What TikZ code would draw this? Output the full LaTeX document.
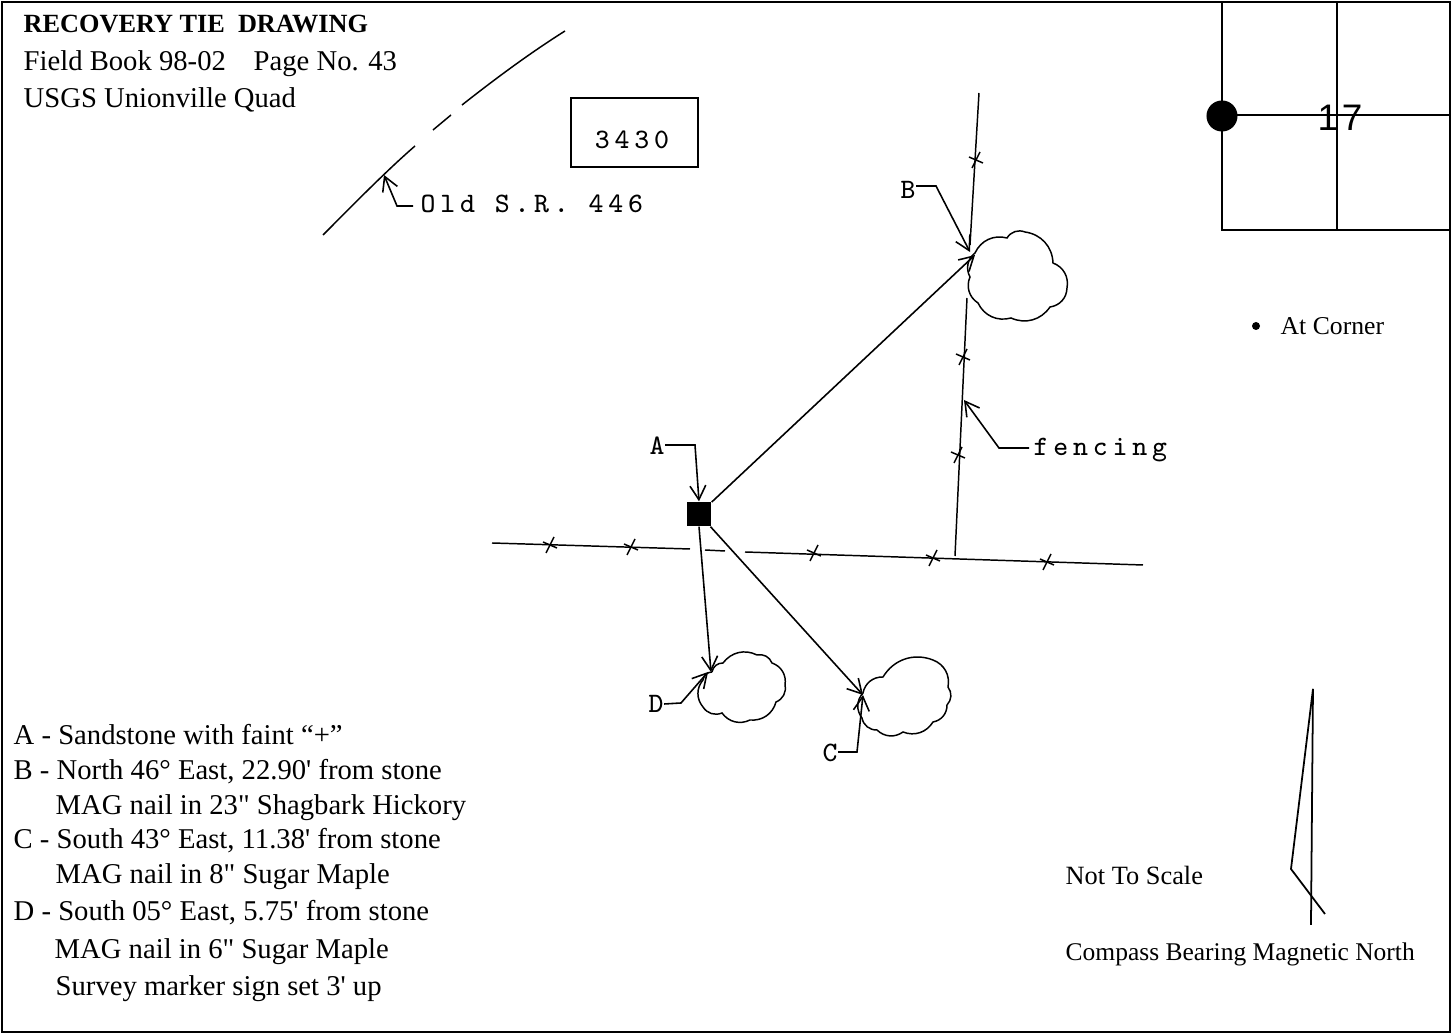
\documentclass[tikz,border=0pt]{standalone}
\usepackage{fontspec}
\setmainfont{Liberation Serif}
\setmonofont[LetterSpace=17]{Latin Modern Mono}
\newfontfamily\fieldfont{Liberation Serif}
\newfontfamily\sectionfont{Liberation Sans}
\usetikzlibrary{arrows.meta}
\begin{document}
\begin{tikzpicture}[x=0.01cm,y=-0.01cm,
        arrow/.style = {line width=0.45pt,-{Straight Barb[length=4pt,width=4.5pt]}},
        fence/.style = {line width=0.42pt},
        barb/.style = {line width=0.42pt},
        grid/.style = {line width=0.7pt},
        note/.style = {anchor=base west,inner sep=0pt,font=\fieldfont\fontsize{8.15pt}{9pt}\selectfont},
        sidenote/.style = {note,font=\fieldfont\fontsize{7.3pt}{9pt}\selectfont},
        sketch/.style = {anchor=base west,inner sep=0pt,font=\ttfamily\fontsize{8pt}{9pt}\selectfont},
        tree/.style = {line width=0.42pt,bend left=40}]
    \useasboundingbox (0,0) rectangle (1453,1034);
    \draw[line width=0.55pt] (2,2) rectangle (1450,1032);

    \node[note,font=\fieldfont\bfseries\fontsize{7.47pt}{9pt}\selectfont] (title) at (23,33) {RECOVERY TIE\ \ DRAWING};
    \node[note] (book) at (23,71) {Field Book 98-02\hspace{0.97em}Page No. 43};
    \node[note] (quad) at (23,108) {USGS Unionville Quad};

    % section grid
    \draw[grid] (1222,2) -- (1222,230) -- (1450,230);
    \draw[grid] (1337,2) -- (1337,230);
    \draw[grid] (1222,115) -- (1450,115);
    \node[circle,fill=black,inner sep=0pt,minimum size=0.31cm] (corner) at (1222,116) {};
    \node[inner sep=0pt,font=\sectionfont\fontsize{10.5pt}{12pt}\selectfont] (section) at (1340,118) {1\hspace{0.1em}7};
    \node[circle,fill=black,inner sep=0pt,minimum size=0.08cm] (dot) at (1256,326) {};
    \node[sidenote] (atcorner) at (1280,335) {At Corner};

    % road
    \draw[fence] (323,235) .. controls (350,208) and (385,172) .. (415,146);
    \draw[fence] (433,130) -- (451,115);
    \draw[fence] (462,105) .. controls (495,79) and (530,53) .. (565,31);
    \coordinate (roadtip) at (384,175);
    \node[sketch] (road) at (420,213) {Old S.R. 446};
    \draw[arrow] (road.west |- 0,206) ++(-7,0) -- (397,206) -- (roadtip);

    \node[draw,line width=0.5pt,minimum width=1.27cm,minimum height=0.69cm] (box) at (634.5,132.5) {};
    \node[sketch,anchor=base] (number) at (632,149) {3430};

    % fences
    \draw[fence] (492,543) -- (690,549);
    \draw[fence] (705,550) -- (725,551);
    \draw[fence] (745,552) -- (1143,565);
    \draw[fence] (979,93) -- (970,245);
    \draw[fence] (967,298) -- (955,556);
    \foreach \x/\y in {550/545,631/547,814/553,933/558,1047/562,976/160,963/357,958/455} {
        \draw[barb] (\x-7,\y-3) -- (\x+7,\y+3);
        \draw[barb] (\x+4,\y-8) -- (\x-4,\y+8);
    }

    % trees
    \draw[tree] (975,253) to (1007,238) to (1025,232) to (1053,263) to (1067,288) to (1050,307)
        to (1011,318) to (978,303) to (970,277) to (975,253);
    \draw[tree] (712,672) to (723,663) to (757,655) to (772,663) to (785,685) to (776,702) to (750,720)
        to (722,713) to (703,707) to (703,680) to (712,672);
    \draw[tree] (863,693) to (883,677) to (933,660) to (948,687) to (947,705) to (933,722) to (903,732)
        to (877,730) to (862,718) to (863,693);

    \node[rectangle,fill=black,inner sep=0pt,minimum size=0.24cm] (stone) at (699,514) {};
    \coordinate (tieb) at (975,255);
    \coordinate (tiec) at (863,695);
    \coordinate (tied) at (711,672);
    \draw[arrow] (stone) -- (tieb);
    \draw[arrow] (stone) -- (tiec);
    \draw[arrow] (stone.south) -- (tied);

    \node[sketch,anchor=center,inner sep=0pt] (labela) at (657,446) {A};
    \node[sketch,anchor=center,inner sep=0pt] (labelb) at (908,190) {B};
    \node[sketch,anchor=center,inner sep=0pt] (labelc) at (830,753) {C};
    \node[sketch,anchor=center,inner sep=0pt] (labeld) at (656,704) {D};
    \draw[arrow] (labela.east) ++(0,-1) -- (695,445) -- (stone.north);
    \draw[arrow] (labelb.east) ++(0,-4) -- (936,186) -- (970,252);
    \draw[arrow] (labelc.east) ++(0,-1) -- (857,752) -- (tiec);
    \draw[arrow] (labeld.east) ++(0,0) -- (681,703) -- (708,672);

    \node[sketch] (fencing) at (1033,456) {fencing};
    \coordinate (fencetip) at (964,400);
    \draw[arrow] (fencing.west |- 0,448) ++(-4,0) -- (999,448) -- (fencetip);

    % north arrow
    \coordinate (north) at (1313,689);
    \draw[line width=0.5pt] (north) -- (1291,869) -- (1325,914);
    \draw[line width=0.5pt] (north) -- (1311,925);
    \node[sidenote,font=\fieldfont\fontsize{7.5pt}{9pt}\selectfont] (scale) at (1065,885) {Not To Scale};
    \node[sidenote,font=\fieldfont\fontsize{7.25pt}{9pt}\selectfont] (bearing) at (1065,961) {Compass Bearing Magnetic North};

    % ties
    \node[note] (linea) at (13,745) {A - Sandstone with faint “+”};
    \node[note] (lineb) at (13,780) {B - North 46° East, 22.90' from stone};
    \node[note] (linebb) at (55,815) {MAG nail in 23" Shagbark Hickory};
    \node[note] (linec) at (13,849) {C - South 43° East, 11.38' from stone};
    \node[note] (linecc) at (55,884) {MAG nail in 8" Sugar Maple};
    \node[note] (lined) at (13,921) {D - South 05° East, 5.75' from stone};
    \node[note] (linedd) at (54,959) {MAG nail in 6" Sugar Maple};
    \node[note] (sign) at (55,996) {Survey marker sign set 3' up};
\end{tikzpicture}
\end{document}
